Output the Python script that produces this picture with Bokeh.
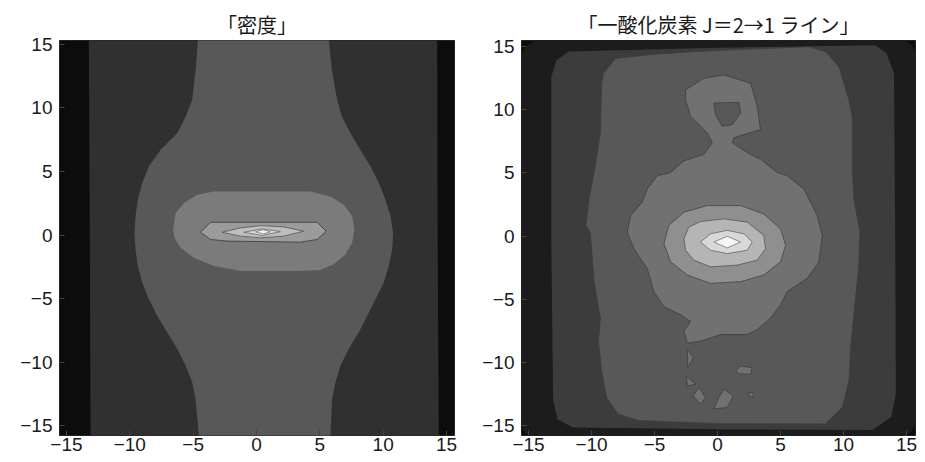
from bokeh.plotting import figure
from bokeh.layouts import row
from bokeh.models import FixedTicker
from bokeh.embed import file_html
from bokeh.resources import INLINE

# ---------------- data ----------------
TICKS = [-15, -10, -5, 0, 5, 10, 15]
TICK_LABELS = ["\u221215", "\u221210", "\u22125", "0", "5", "10", "15"]

TITLE_DENS = "「密度」"
TITLE_CO = "「一酸化炭素 J＝2→1 ライン」"

# Density map: filled contour regions (outer -> inner), vertices (x, y)
DENS_L1 = [(-13.24, 16), (-13.16, 0), (-13.1, -16), (14.39, -16), (14.3, 0), (14.26, 16)]
DENS_L2 = [(-4.6, 16), (-4.63, 15.31), (-4.8, 13.0), (-5.08, 10.61), (-5.6, 9.3), (-6.26, 8.0),
           (-7.58, 6.7), (-8.5, 5.39), (-9.02, 4.09), (-9.37, 2.78), (-9.55, 1.47), (-9.63, 0.17),
           (-9.55, -1.13), (-9.37, -2.44), (-9.02, -3.74), (-8.5, -5.05), (-7.84, -6.35),
           (-7.05, -7.66), (-6.26, -8.96), (-5.6, -10.27), (-5.08, -11.57), (-4.81, -12.88),
           (-4.55, -15.75), (-4.53, -16),
           (5.84, -16), (5.84, -15.75), (5.97, -12.88), (6.24, -11.57), (6.63, -10.27),
           (7.29, -8.96), (8.08, -7.66), (8.74, -6.35), (9.39, -5.05), (10.05, -3.74),
           (10.44, -2.44), (10.71, -1.13), (10.79, 0.17), (10.58, 1.47), (10.18, 2.78),
           (9.66, 4.09), (9.0, 5.39), (8.21, 6.7), (7.42, 8.0), (6.76, 9.3), (6.37, 10.61),
           (5.95, 13.0), (5.71, 15.31), (5.7, 16)]
DENS_L3 = [(-6.58, 0.43), (-6.39, 1.74), (-5.73, 2.52), (-4.68, 3.17), (-3.37, 3.43), (4.26, 3.43),
           (5.84, 3.04), (6.89, 2.39), (7.55, 1.47), (7.73, 0.43), (7.55, -0.6), (7.02, -1.53),
           (6.1, -2.31), (5.05, -2.75), (3.47, -2.83), (-1.26, -2.83), (-3.37, -2.44),
           (-4.95, -1.79), (-6.0, -1.0), (-6.47, -0.22)]
DENS_L4 = [(-4.42, 0.22), (-3.63, 1.0), (4.79, 1.0), (5.5, 0.3), (4.79, -0.35), (3.47, -0.56),
           (-2.31, -0.48), (-3.63, -0.35)]
DENS_L5 = [(-2.71, 0.22), (-1.26, 0.56), (0.32, 0.74), (2.15, 0.64), (3.73, 0.3), (2.15, -0.09),
           (0.32, -0.22), (-1.26, -0.09)]
DENS_L6 = [(-1.0, 0.22), (0.45, 0.48), (1.89, 0.27), (0.45, -0.04)]
DENS_L7 = [(-0.08, 0.25), (0.53, 0.41), (1.1, 0.25), (0.53, 0.09)]

# CO J=2->1 line map: filled contour regions (outer -> inner)
CO_L1 = [(-15.8, 13.9), (-15.2, 15.0), (-14.2, 15.6), (14.4, 15.7), (15.3, 15.2), (15.9, 14.3),
         (15.9, -14.4), (15.4, -15.5), (14.4, -16.0), (-14.4, -16.0), (-15.3, -15.6), (-15.8, -14.6)]
CO_L2 = [(-13.2, 12.6), (-12.8, 13.9), (-11.8, 14.6), (0, 14.9), (12.5, 15.1), (13.4, 14.5),
         (14.0, 12.9), (14.1, 0), (14.15, -12.5), (13.8, -14.3), (12.3, -15.35), (0, -15.3),
         (-11.5, -15.15), (-12.7, -14.5), (-13.05, -13.0), (-13.2, 0)]
CO_L3 = [(-8.1, 14.06), (-9.05, 12.88), (-9.2, 12.1), (-9.3, 8.2), (-9.7, 5.55), (-10.2, 2.93),
         (-10.45, 0.84), (-10.1, 0.31), (-9.8, -3.6), (-9.3, -6.5), (-9.45, -8.33), (-9.2, -10.68),
         (-8.8, -12.78), (-7.9, -14.09), (-6.3, -14.6), (0, -14.85), (8.57, -14.87), (9.9, -13.56),
         (10.42, -11.47), (10.56, -8.85), (10.95, -4.92), (11.21, -2.3), (11.3, 0.31), (10.82, 2.93),
         (10.69, 5.55), (10.69, 9.48), (10.42, 10.79), (10.02, 12.1), (9.63, 13.41), (8.57, 14.59),
         (7.25, 14.98), (0, 14.7), (-5, 14.4)]
CO_L4 = [(-2.54, 11.57), (-1.09, 12.49), (0.5, 12.75), (2.62, 12.1), (3.15, 10.27), (3.41, 8.43),
         (1.29, 7.78), (1.17, 7.38), (2.36, 6.6), (3.41, 6.07), (4.74, 5.03), (5.53, 4.77),
         (6.85, 3.72), (7.91, 1.63), (8.31, 0.05), (8.04, -2.04), (7.12, -3.35), (5.53, -4.4),
         (5.0, -5.44), (4.21, -6.5), (3.15, -7.41), (2.36, -7.8), (0.24, -7.8), (-1.35, -8.33),
         (-2.4, -8.46), (-2.67, -7.54), (-2.14, -6.76), (-2.94, -6.23), (-4.26, -5.58),
         (-5.06, -4.4), (-5.58, -2.57), (-6.64, -1.0), (-7.17, 0.31), (-6.9, 1.63), (-5.98, 2.67),
         (-5.58, 3.72), (-4.79, 4.77), (-3.73, 5.03), (-2.67, 5.95), (-1.09, 6.47), (-0.42, 7.38),
         (-0.82, 8.17), (-2.14, 9.48), (-2.54, 10.79)]
CO_L4_HOLE = [(-0.29, 10.53), (1.69, 10.58), (1.83, 9.74), (1.17, 8.82), (0.37, 8.69), (-0.16, 9.61)]
CO_L4_ISLANDS = [
    [(-2.4, -8.98), (-1.93, -9.64), (-2.36, -10.42)],
    [(1.43, -10.68), (1.83, -10.29), (2.75, -10.42), (2.62, -10.94), (1.69, -10.9)],
    [(-2.46, -11.08), (-1.75, -11.73), (-2.4, -11.86)],
    [(-1.48, -12.0), (-0.95, -12.78), (-1.35, -13.3), (-1.93, -12.65)],
    [(0.5, -12.12), (1.25, -12.65), (0.77, -13.57), (-0.29, -13.69), (0.1, -12.78)],
    [(2.49, -12.38), (2.83, -12.38), (2.83, -12.72), (2.49, -12.72)],
]
CO_L5 = [(-4.26, -0.6), (-3.87, 0.84), (-2.67, 1.89), (-0.82, 2.41), (1.83, 2.41), (3.67, 1.75),
         (5.0, 0.57), (5.4, -0.73), (5.0, -2.04), (3.67, -3.09), (1.83, -3.61), (-0.56, -3.75),
         (-2.4, -3.09), (-3.73, -2.04)]
CO_L6 = [(-2.67, -0.21), (-2.28, 0.71), (-1.35, 1.15), (0.5, 1.36), (2.36, 1.1), (3.67, 0.05),
         (3.81, -1.0), (3.15, -1.91), (1.56, -2.3), (-0.56, -2.44), (-1.88, -1.91), (-2.54, -1.12)]
CO_L7 = [(-1.35, -0.47), (-0.56, 0.18), (0.77, 0.45), (2.09, 0.18), (2.75, -0.47), (2.36, -1.12),
         (0.77, -1.39), (-0.56, -1.12)]
CO_L8 = [(-0.29, -0.47), (0.77, -0.02), (1.83, -0.47), (0.77, -0.94)]

# ---------------- styling ----------------
DENS_COLORS = ["#0c0c0c", "#303030", "#585858", "#7b7b7b", "#9b9b9b", "#bebebe", "#dddddd", "#f8f8f8"]
CO_COLORS = ["#0d0d0d", "#1c1c1c", "#3c3c3c", "#585858", "#717171", "#8f8f8f", "#b5b5b5", "#d8d8d8", "#f6f6f6"]


def xs(poly):
    return [pt[0] for pt in poly]


def ys(poly):
    return [pt[1] for pt in poly]


def make_fig(title, xr, yr, width, bl, br, bt, bb):
    p = figure(width=width, height=460, x_range=xr, y_range=yr,
               output_backend="svg", toolbar_location=None,
               min_border_left=bl, min_border_right=br, min_border_top=bt,
               min_border_bottom=bb, title=title)
    p.title.text_font = "Noto Sans CJK JP"
    p.title.text_font_size = "20px"
    p.title.text_font_style = "normal"
    p.title.text_color = "#1a1a1a"
    p.title.align = "center"
    p.title.standoff = 3
    p.grid.visible = False
    p.outline_line_color = "#222222"
    p.background_fill_color = "#ffffff"
    p.border_fill_color = "#ffffff"
    for ax in (p.xaxis[0], p.yaxis[0]):
        ax.ticker = FixedTicker(ticks=TICKS)
        ax.major_label_overrides = {t: l for t, l in zip(TICKS, TICK_LABELS)}
        ax.major_label_text_font = "Liberation Sans"
        ax.major_label_text_font_size = "19px"
        ax.major_label_text_color = "#1a1a1a"
        ax.axis_line_color = None
        ax.major_tick_in = 5
        ax.major_tick_out = 0
        ax.major_tick_line_color = "#444444"
        ax.minor_tick_line_color = None
    p.xaxis[0].major_label_standoff = 2
    p.yaxis[0].major_label_standoff = 7
    return p


def fill(p, poly, color, line=None):
    p.patch(xs(poly), ys(poly), fill_color=color, line_color=line, line_width=0.8)


# ---- left: density ----
p1 = make_fig(TITLE_DENS, (-15.55, 15.63), (-15.78, 15.31), 465, 59, 11, 40, 23)
p1.background_fill_color = DENS_COLORS[0]
fill(p1, DENS_L1, DENS_COLORS[1])
fill(p1, DENS_L2, DENS_COLORS[2])
fill(p1, DENS_L3, DENS_COLORS[3])
fill(p1, DENS_L4, DENS_COLORS[4], "#3a3a3a")
fill(p1, DENS_L5, DENS_COLORS[5], "#555555")
fill(p1, DENS_L6, DENS_COLORS[6], "#666666")
fill(p1, DENS_L7, DENS_COLORS[7], "#777777")

# ---- right: CO line ----
p2 = make_fig(TITLE_CO, (-15.56, 15.71), (-15.79, 15.48), 458, 56, 8, 37, 25)
p2.background_fill_color = CO_COLORS[0]
fill(p2, CO_L1, CO_COLORS[1])
fill(p2, CO_L2, CO_COLORS[2])
fill(p2, CO_L3, CO_COLORS[3], "#3e3e3e")
fill(p2, CO_L4, CO_COLORS[4], "#3e3e3e")
fill(p2, CO_L4_HOLE, CO_COLORS[3], "#3e3e3e")
for isl in CO_L4_ISLANDS:
    fill(p2, isl, CO_COLORS[4], "#3e3e3e")
fill(p2, CO_L5, CO_COLORS[5], "#444444")
fill(p2, CO_L6, CO_COLORS[6], "#555555")
fill(p2, CO_L7, CO_COLORS[7], "#666666")
fill(p2, CO_L8, CO_COLORS[8], "#777777")

layout = row(p1, p2)
open("out.html", "w").write(file_html(layout, INLINE))
